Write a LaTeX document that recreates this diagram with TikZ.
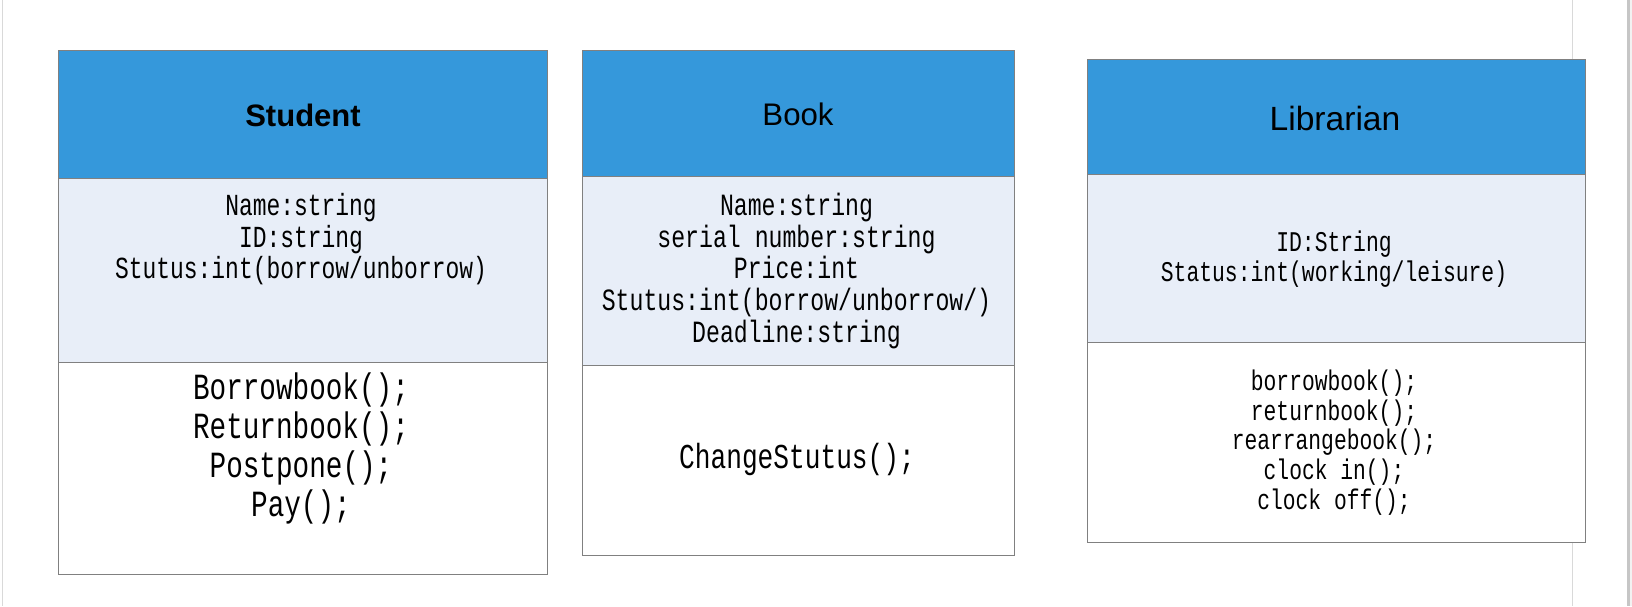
\documentclass[tikz,border=0pt]{standalone}
\usepackage{fontspec}
\setmainfont{Liberation Sans}
\newfontfamily\umlfont[FakeStretch=0.75]{Liberation Mono}
\definecolor{headblue}{HTML}{3598DB}
\definecolor{attrgray}{HTML}{E8EEF8}
\definecolor{rulegray}{HTML}{808080}
\begin{document}
\begin{tikzpicture}[x=1pt,y=-1pt,
    box/.style={draw=rulegray,line width=1pt,anchor=north west,inner sep=0pt},
    headbox/.style={box,fill=headblue},
    attrbox/.style={box,fill=attrgray},
    opsbox/.style={box,fill=white},
    members/.style={align=center,anchor=base,inner sep=0pt}]
  \useasboundingbox[fill=white] (0,0) rectangle (1632,606);
  % page edges
  \draw[gray!30] (1.7,0) -- (1.7,606);
  \draw[gray!30] (1571.7,0) -- (1571.7,606);
  \fill[gray!45] (1627.3,0) rectangle (1629.6,606);
  \fill[gray!10] (1629.6,0) rectangle (1632,606);

  % Student
  \node[headbox, minimum width=489pt, minimum height=127.2pt] (stuhead) at (58.3,50.3) {};
  \node[attrbox, minimum width=489pt, minimum height=184.7pt] (stuattr) at (58.3,177.5) {};
  \node[opsbox, minimum width=489pt, minimum height=212.1pt] (stuops) at (58.3,362.2) {};
  \node[anchor=base, font=\bfseries\fontsize{31}{37}\selectfont] (stutitle) at (303,126.7) {Student};
  \node[members, font=\umlfont\fontsize{30.6}{31.2}\selectfont] (stuvars) at (301,278.3)
    {Name:string\\ID:string\\Stutus:int(borrow/unborrow)};
  \node[members, font=\umlfont\fontsize{36.9}{39.1}\selectfont] (stufuncs) at (301,516.7)
    {Borrowbook();\\Returnbook();\\Postpone();\\Pay();};

  % Book
  \node[headbox, minimum width=432pt, minimum height=126pt] (bookhead) at (582.3,50.3) {};
  \node[attrbox, minimum width=432pt, minimum height=189pt] (bookattr) at (582.3,176.3) {};
  \node[opsbox, minimum width=432pt, minimum height=190pt] (bookops) at (582.3,365.3) {};
  \node[anchor=base, font=\fontsize{31.2}{37}\selectfont] (booktitle) at (798,125.7) {Book};
  \node[members, font=\umlfont\fontsize{30.9}{31.9}\selectfont] (bookvars) at (796.5,342.7)
    {Name:string\\serial number:string\\Price:int\\Stutus:int(borrow/unborrow/)\\Deadline:string};
  \node[members, font=\umlfont\fontsize{34.9}{40}\selectfont] (bookfuncs) at (797,468)
    {ChangeStutus();};

  % Librarian
  \node[headbox, minimum width=498.6pt, minimum height=115pt] (libhead) at (1086.7,59.3) {};
  \node[attrbox, minimum width=498.6pt, minimum height=168pt] (libattr) at (1086.7,174.3) {};
  \node[opsbox, minimum width=498.6pt, minimum height=199.7pt] (libops) at (1086.7,342.3) {};
  \node[anchor=base, font=\fontsize{33.6}{40}\selectfont] (libtitle) at (1335,130.7) {Librarian};
  \node[members, font=\umlfont\fontsize{28.5}{29.3}\selectfont] (libvars) at (1334,281)
    {ID:String\\Status:int(working/leisure)};
  \node[members, font=\umlfont\fontsize{28.4}{29.6}\selectfont] (libfuncs) at (1334,509)
    {borrowbook();\\returnbook();\\rearrangebook();\\clock in();\\clock off();};
\end{tikzpicture}
\end{document}
